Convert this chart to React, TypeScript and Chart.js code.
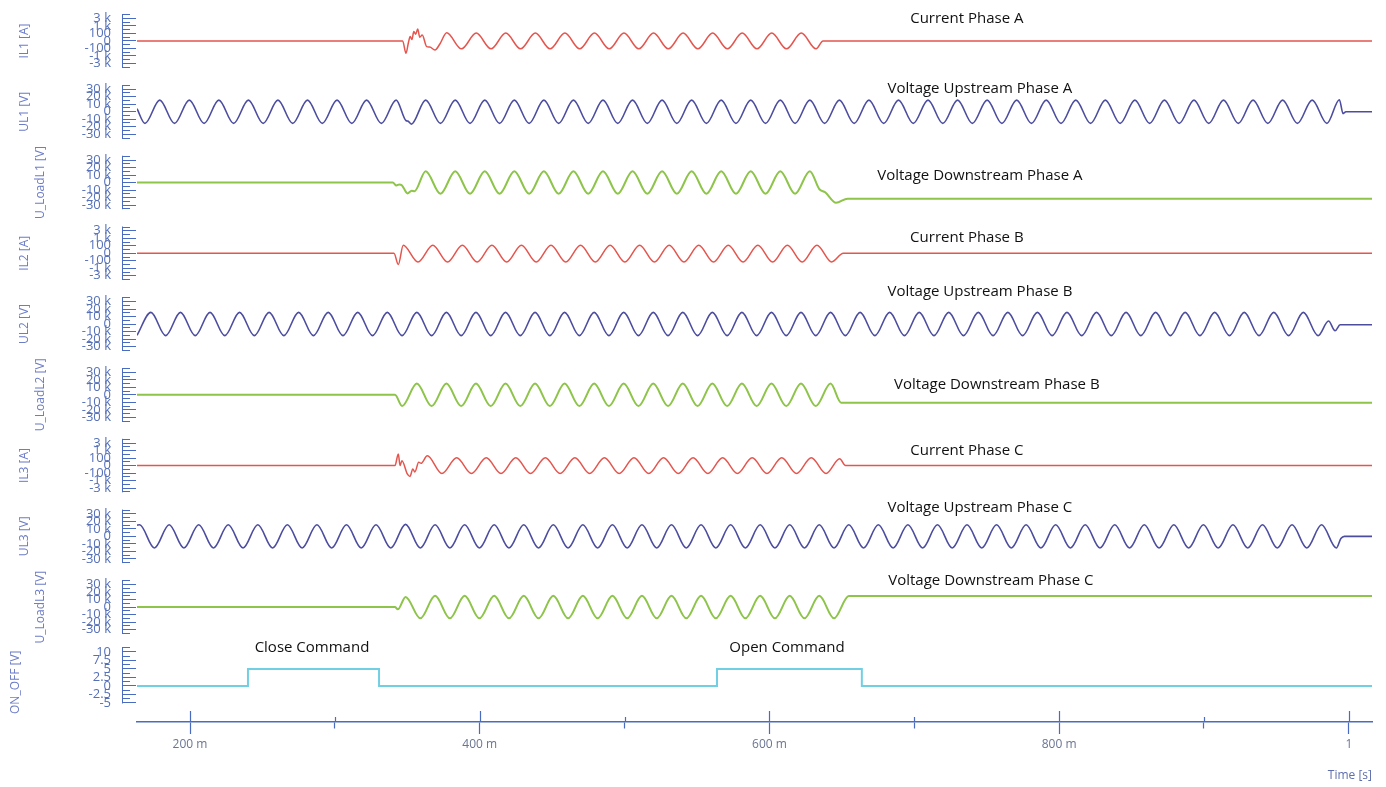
import React, { useEffect, useRef } from "react";
import { Chart, registerables } from "chart.js";

Chart.register(...registerables);

// ---------------- data (time in ms) ----------------
const X_TICKS = [200, 300, 400, 500, 600, 700, 800, 900, 1000];
const X_TICK_LABELS = ["200 m", "", "400 m", "", "600 m", "", "800 m", "", "1"];

const IL_TICKS = [-3.5, -3, -2.5, -2, -1.5, -1, -0.5, 0, 0.5, 1, 1.5, 2, 2.5, 3, 3.5];
const IL_TICK_LABELS = ["", "-3 k", "", "-1 k", "", "-100", "", "0", "", "100", "", "1 k", "", "3 k", ""];
const U_TICKS = [-35, -30, -25, -20, -15, -10, -5, 0, 5, 10, 15, 20, 25, 30, 35];
const U_TICK_LABELS = ["", "-30 k", "", "-20 k", "", "-10 k", "", "0", "", "10 k", "", "20 k", "", "30 k", ""];
const ON_TICKS = [-5, -3.75, -2.5, -1.25, 0, 1.25, 2.5, 3.75, 5, 6.25, 7.5, 8.75, 10, 11.25];
const ON_TICK_LABELS = ["-5", "", "-2.5", "", "0", "", "2.5", "", "5", "", "7.5", "", "10", ""];

const IL1 = [
  [163.4, 0], [346.8, 0], [349.1, -1.65], [350.8, -0.2], [352.0, 0.6], [353.2, 0.2], [354.5, 1.25],
  [355.8, 0.9], [357.2, 1.6], [358.6, 0.5], [360.3, 0.8], [363.4, -0.75], [365.5, -0.8], [369.1, -1.2],
  [372.5, -0.4], [377.2, 1.1], [387.4, -1.05], [397.6, 1.05], [407.8, -1.05], [418.0, 1.05], [428.2, -1.05],
  [438.4, 1.05], [448.6, -1.05], [458.8, 1.05], [469.0, -1.05], [479.2, 1.05], [489.4, -1.05], [499.6, 1.05],
  [509.8, -1.05], [520.0, 1.05], [530.2, -1.05], [540.4, 1.05], [550.6, -1.05], [560.8, 1.05], [571.0, -1.05],
  [581.2, 1.05], [591.4, -1.05], [601.6, 1.05], [611.8, -1.05], [622.0, 1.05], [632.2, -1.05], [637.0, 0],
  [1016, 0],
];
const IL2 = [
  [163.4, 0], [340.8, 0], [343.8, -1.5], [347.2, 1.07], [357.4, -1.15], [367.6, 1.07], [377.8, -1.15],
  [388.0, 1.07], [398.2, -1.15], [408.4, 1.07], [418.6, -1.15], [428.8, 1.07], [439.0, -1.15], [449.2, 1.07],
  [459.4, -1.15], [469.6, 1.07], [479.8, -1.15], [490.0, 1.07], [500.2, -1.15], [510.4, 1.07], [520.6, -1.15],
  [530.8, 1.07], [541.0, -1.15], [551.2, 1.07], [561.4, -1.15], [571.6, 1.07], [581.8, -1.15], [592.0, 1.07],
  [602.2, -1.15], [612.4, 1.07], [622.6, -1.15], [632.8, 1.07], [643.0, -1.15], [651.0, 0], [1016, 0],
];
const IL3 = [
  [163.4, 0], [341.5, 0], [343.8, 1.55], [345.0, 0], [346.3, 0.65], [350.0, -1.1], [351.9, -1.45],
  [353.8, -0.45], [355.2, -0.85], [357.9, 0.45], [359.5, 0.3], [363.8, 1.3], [373.9, -1.05], [384.1, 1.05],
  [394.3, -1.05], [404.5, 1.05], [414.7, -1.05], [424.9, 1.05], [435.1, -1.05], [445.3, 1.05], [455.5, -1.05],
  [465.7, 1.05], [475.9, -1.05], [486.1, 1.05], [496.3, -1.05], [506.5, 1.05], [516.7, -1.05], [526.9, 1.05],
  [537.1, -1.05], [547.3, 1.05], [557.5, -1.05], [567.7, 1.05], [577.9, -1.05], [588.1, 1.05], [598.3, -1.05],
  [608.5, 1.05], [618.7, -1.05], [628.9, 1.05], [639.1, -1.05], [648.5, 0.9], [652.5, 0], [1016, 0],
];

const UL1 = [
  [163.4, 4], [168.9, -15.5], [179.1, 15.5], [189.3, -15.5], [199.5, 15.5], [209.7, -15.5], [219.9, 15.5],
  [230.1, -15.5], [240.3, 15.5], [250.5, -15.5], [260.7, 15.5], [270.9, -15.5], [281.1, 15.5], [291.3, -15.5],
  [301.5, 15.5], [311.7, -15.5], [321.9, 15.5], [332.1, -15.5], [342.3, 15.5], [349.2, -12], [350.4, -12.5],
  [352.8, -16.5], [362.7, 15.5], [372.9, -15.5], [383.1, 15.5], [393.3, -15.5], [403.5, 15.5], [413.7, -15.5],
  [423.9, 15.5], [434.1, -15.5], [444.3, 15.5], [454.5, -15.5], [464.7, 15.5], [474.9, -15.5], [485.1, 15.5],
  [495.3, -15.5], [505.5, 15.5], [515.7, -15.5], [525.9, 15.5], [536.1, -15.5], [546.3, 15.5], [556.5, -15.5],
  [566.7, 15.5], [576.9, -15.5], [587.1, 15.5], [597.3, -15.5], [607.5, 15.5], [617.7, -15.5], [627.9, 15.5],
  [638.1, -15.5], [648.3, 15.5], [658.5, -15.5], [668.7, 15.5], [678.9, -15.5], [689.1, 15.5], [699.3, -15.5],
  [709.5, 15.5], [719.7, -15.5], [729.9, 15.5], [740.1, -15.5], [750.3, 15.5], [760.5, -15.5], [770.7, 15.5],
  [780.9, -15.5], [791.1, 15.5], [801.3, -15.5], [811.5, 15.5], [821.7, -15.5], [831.9, 15.5], [842.1, -15.5],
  [852.3, 15.5], [862.5, -15.5], [872.7, 15.5], [882.9, -15.5], [893.1, 15.5], [903.3, -15.5], [913.5, 15.5],
  [923.7, -15.5], [933.9, 15.5], [944.1, -15.5], [954.3, 15.5], [964.5, -15.5], [974.7, 15.5], [984.9, -15.5],
  [993.5, 16], [996.0, -2.5], [998.0, 0], [1016, 0],
];
const UL2 = [
  [163.4, -15], [173.0, 15.5], [183.2, -15.5], [193.4, 15.5], [203.6, -15.5], [213.8, 15.5], [224.0, -15.5],
  [234.2, 15.5], [244.4, -15.5], [254.6, 15.5], [264.8, -15.5], [275.0, 15.5], [285.2, -15.5], [295.4, 15.5],
  [305.6, -15.5], [315.8, 15.5], [326.0, -15.5], [336.2, 15.5], [346.4, -15.5], [356.6, 15.5], [366.8, -15.5],
  [377.0, 15.5], [387.2, -15.5], [397.4, 15.5], [407.6, -15.5], [417.8, 15.5], [428.0, -15.5], [438.2, 15.5],
  [448.4, -15.5], [458.6, 15.5], [468.8, -15.5], [479.0, 15.5], [489.2, -15.5], [499.4, 15.5], [509.6, -15.5],
  [519.8, 15.5], [530.0, -15.5], [540.2, 15.5], [550.4, -15.5], [560.6, 15.5], [570.8, -15.5], [581.0, 15.5],
  [591.2, -15.5], [601.4, 15.5], [611.6, -15.5], [621.8, 15.5], [632.0, -15.5], [642.2, 15.5], [652.4, -15.5],
  [662.6, 15.5], [672.8, -15.5], [683.0, 15.5], [693.2, -15.5], [703.4, 15.5], [713.6, -15.5], [723.8, 15.5],
  [734.0, -15.5], [744.2, 15.5], [754.4, -15.5], [764.6, 15.5], [774.8, -15.5], [785.0, 15.5], [795.2, -15.5],
  [805.4, 15.5], [815.6, -15.5], [825.8, 15.5], [836.0, -15.5], [846.2, 15.5], [856.4, -15.5], [866.6, 15.5],
  [876.8, -15.5], [887.0, 15.5], [897.2, -15.5], [907.4, 15.5], [917.6, -15.5], [927.8, 15.5], [938.0, -15.5],
  [948.2, 15.5], [958.4, -15.5], [968.6, 15.5], [978.8, -15.5], [986.0, 4], [990.5, -9], [994.0, -1],
  [1016, -1],
];
const UL3 = [
  [163.4, 15], [165.2, 15.5], [175.4, -15.5], [185.6, 15.5], [195.8, -15.5], [206.0, 15.5], [216.2, -15.5],
  [226.4, 15.5], [236.6, -15.5], [246.8, 15.5], [257.0, -15.5], [267.2, 15.5], [277.4, -15.5], [287.6, 15.5],
  [297.8, -15.5], [308.0, 15.5], [318.2, -15.5], [328.4, 15.5], [338.6, -15.5], [348.8, 16], [359.0, -15.5],
  [369.2, 15.5], [379.4, -15.5], [389.6, 15.5], [399.8, -15.5], [410.0, 15.5], [420.2, -15.5], [430.4, 15.5],
  [440.6, -15.5], [450.8, 15.5], [461.0, -15.5], [471.2, 15.5], [481.4, -15.5], [491.6, 15.5], [501.8, -15.5],
  [512.0, 15.5], [522.2, -15.5], [532.4, 15.5], [542.6, -15.5], [552.8, 15.5], [563.0, -15.5], [573.2, 15.5],
  [583.4, -15.5], [593.6, 15.5], [603.8, -15.5], [614.0, 15.5], [624.2, -15.5], [634.4, 15.5], [644.6, -15.5],
  [654.8, 15.5], [665.0, -15.5], [675.2, 15.5], [685.4, -15.5], [695.6, 15.5], [705.8, -15.5], [716.0, 15.5],
  [726.2, -15.5], [736.4, 15.5], [746.6, -15.5], [756.8, 15.5], [767.0, -15.5], [777.2, 15.5], [787.4, -15.5],
  [797.6, 15.5], [807.8, -15.5], [818.0, 15.5], [828.2, -15.5], [838.4, 15.5], [848.6, -15.5], [858.8, 15.5],
  [869.0, -15.5], [879.2, 15.5], [889.4, -15.5], [899.6, 15.5], [909.8, -15.5], [920.0, 15.5], [930.2, -15.5],
  [940.4, 15.5], [950.6, -15.5], [960.8, 15.5], [971.0, -15.5], [981.2, 15.5], [991.4, -15.5], [994.5, -3],
  [997.0, 0], [1016, 0],
];

const ULOAD1 = [
  [163.4, 0], [340.0, 0], [342.5, -4], [344.5, -2.5], [346.2, -3.5], [350.2, -14.5], [353.0, -11],
  [355.0, -11.5], [362.7, 15], [372.9, -15], [383.1, 15], [393.3, -15], [403.5, 15], [413.7, -15],
  [423.9, 15], [434.1, -15], [444.3, 15], [454.5, -15], [464.7, 15], [474.9, -15], [485.1, 15],
  [495.3, -15], [505.5, 15], [515.7, -15], [525.9, 15], [536.1, -15], [546.3, 15], [556.5, -15],
  [566.7, 15], [576.9, -15], [587.1, 15], [597.3, -15], [607.5, 15], [617.7, -15], [627.9, 15],
  [634.5, -9], [638.5, -13], [646.0, -27], [654.0, -21.5], [1016, -21.5],
];
const ULOAD2 = [
  [163.4, 0], [341.5, 0], [346.4, -15], [356.6, 15], [366.8, -15], [377.0, 15], [387.2, -15],
  [397.4, 15], [407.6, -15], [417.8, 15], [428.0, -15], [438.2, 15], [448.4, -15], [458.6, 15],
  [468.8, -15], [479.0, 15], [489.2, -15], [499.4, 15], [509.6, -15], [519.8, 15], [530.0, -15],
  [540.2, 15], [550.4, -15], [560.6, 15], [570.8, -15], [581.0, 15], [591.2, -15], [601.4, 15],
  [611.6, -15], [621.8, 15], [632.0, -15], [642.2, 15], [649.5, -10.5], [1016, -10.5],
];
const ULOAD3 = [
  [163.4, 0], [341.5, 0], [343.5, -3], [348.8, 13.5], [359.0, -15], [369.2, 15], [379.4, -15],
  [389.6, 15], [399.8, -15], [410.0, 15], [420.2, -15], [430.4, 15], [440.6, -15], [450.8, 15],
  [461.0, -15], [471.2, 15], [481.4, -15], [491.6, 15], [501.8, -15], [512.0, 15], [522.2, -15],
  [532.4, 15], [542.6, -15], [552.8, 15], [563.0, -15], [573.2, 15], [583.4, -15], [593.6, 15],
  [603.8, -15], [614.0, 15], [624.2, -15], [634.4, 15], [644.6, -15], [654.8, 14.7], [1016, 14.7],
];
const ON_OFF = [
  [163.4, 0], [240.0, 0], [240.0, 5], [330.5, 5], [330.5, 0], [563.8, 0], [563.8, 5], [663.8, 5],
  [663.8, 0], [1016, 0],
];

// ---------------- styling / layout config ----------------
const RED = "#e4554e";
const BLUE = "#4c4d9f";
const GREEN = "#8dc449";
const CYAN = "#70cfe3";
const AXIS = "#4a6cc0";
const TICK_TXT = "#5570b8";
const TITLE_TXT = "#6c7cc6";
const Y_TICK_LEN = 15;

const KINDS: any = {
  IL: { min: -4.717, max: 4.717, ticks: IL_TICKS, labels: IL_TICK_LABELS, weight: 1 },
  U: { min: -47.17, max: 47.17, ticks: U_TICKS, labels: U_TICK_LABELS, weight: 1 },
  ON: { min: -10.59, max: 12.79, ticks: ON_TICKS, labels: ON_TICK_LABELS, weight: 1.1237 },
};

const PANELS: any[] = [
  { id: "yIL1", title: "IL1 [A]", kind: "IL", data: IL1, color: RED, width: 1.5, titleX: 25 },
  { id: "yUL1", title: "UL1 [V]", kind: "U", data: UL1, color: BLUE, width: 1.6, titleX: 25 },
  { id: "yUD1", title: "U_LoadL1 [V]", kind: "U", data: ULOAD1, color: GREEN, width: 2, titleX: 41 },
  { id: "yIL2", title: "IL2 [A]", kind: "IL", data: IL2, color: RED, width: 1.5, titleX: 25 },
  { id: "yUL2", title: "UL2 [V]", kind: "U", data: UL2, color: BLUE, width: 1.6, titleX: 25 },
  { id: "yUD2", title: "U_LoadL2 [V]", kind: "U", data: ULOAD2, color: GREEN, width: 2, titleX: 41 },
  { id: "yIL3", title: "IL3 [A]", kind: "IL", data: IL3, color: RED, width: 1.5, titleX: 25 },
  { id: "yUL3", title: "UL3 [V]", kind: "U", data: UL3, color: BLUE, width: 1.6, titleX: 25 },
  { id: "yUD3", title: "U_LoadL3 [V]", kind: "U", data: ULOAD3, color: GREEN, width: 2, titleX: 41 },
  { id: "yON", title: "ON_OFF [V]", kind: "ON", data: ON_OFF, color: CYAN, width: 2, titleX: 16 },
];

const NOTES = [
  { text: "Current Phase A", t: 736.3, axis: "yIL1", v: 2.93 },
  { text: "Voltage Upstream Phase A", t: 745.3, axis: "yUL1", v: 30.7 },
  { text: "Voltage Downstream Phase A", t: 745.3, axis: "yUD1", v: 9.3 },
  { text: "Current Phase B", t: 736.3, axis: "yIL2", v: 2.13 },
  { text: "Voltage Upstream Phase B", t: 745.3, axis: "yUL2", v: 42.7 },
  { text: "Voltage Downstream Phase B", t: 757.0, axis: "yUD2", v: 13.3 },
  { text: "Current Phase C", t: 736.3, axis: "yIL3", v: 2.0 },
  { text: "Voltage Upstream Phase C", t: 745.3, axis: "yUL3", v: 38.7 },
  { text: "Voltage Downstream Phase C", t: 752.9, axis: "yUD3", v: 34.7 },
  { text: "Close Command", t: 284.2, axis: "yON", v: 11.2 },
  { text: "Open Command", t: 612.1, axis: "yON", v: 11.2 },
];

const decorPlugin = {
  id: "decor",
  afterDraw(chart: any) {
    const ctx = chart.ctx;
    ctx.save();
    ctx.strokeStyle = AXIS;
    ctx.lineWidth = 1;
    PANELS.forEach((p) => {
      const s = chart.scales[p.id];
      const t = s.ticks;
      const y0 = s.getPixelForValue(t[0].value);
      const y1 = s.getPixelForValue(t[t.length - 1].value);
      const x = Math.round(s.right - Y_TICK_LEN) + 0.5;
      ctx.beginPath();
      ctx.moveTo(x, y0 + 0.5);
      ctx.lineTo(x, y1 - 0.5);
      ctx.stroke();
    });
    const xs = chart.scales.x;
    ctx.lineWidth = 1.2;
    xs.ticks.forEach((t: any, i: number) => {
      const px = Math.round(xs.getPixelForValue(t.value)) + 0.5;
      ctx.beginPath();
      ctx.moveTo(px, xs.top);
      ctx.lineTo(px, xs.top - (X_TICK_LABELS[i] ? 11 : 5));
      ctx.stroke();
    });
    ctx.fillStyle = "#111111";
    ctx.font = "15px 'Open Sans', sans-serif";
    ctx.textAlign = "center";
    ctx.textBaseline = "middle";
    NOTES.forEach((n) => {
      ctx.fillText(n.text, xs.getPixelForValue(n.t), chart.scales[n.axis].getPixelForValue(n.v));
    });
    ctx.restore();
  },
};

export default function App() {
  const ref = useRef<HTMLCanvasElement>(null);

  useEffect(() => {
    const canvas = ref.current;
    if (!canvas) return;
    Chart.defaults.font.family = "'Open Sans', sans-serif";

    const scales: any = {
      x: {
        type: "linear",
        position: "bottom",
        min: 163.4,
        max: 1016,
        afterBuildTicks: (s: any) => {
          s.ticks = X_TICKS.map((v) => ({ value: v }));
        },
        afterFit: (s: any) => {
          s.height = 65;
          s.paddingLeft = 0;
          s.paddingRight = 0;
        },
        ticks: {
          autoSkip: false,
          maxRotation: 0,
          padding: 3,
          color: "#6b7593",
          font: { size: 12 },
          callback: (_v: any, i: number) => X_TICK_LABELS[i],
        },
        grid: {
          drawOnChartArea: false,
          tickLength: 12,
          tickColor: AXIS,
          tickWidth: 1.2,
          tickBorderDash: (c: any) => (X_TICK_LABELS[c.index] ? [] : [6, 100]),
        },
        border: { display: true, color: AXIS, width: 1.5 },
        title: {
          display: true,
          text: "Time [s]",
          align: "end",
          color: "#5e6fae",
          font: { size: 12 },
          padding: { top: 0, bottom: 4 },
        },
      },
    };

    PANELS.forEach((p, i) => {
      const k = KINDS[p.kind];
      scales[p.id] = {
        type: "linear",
        position: "left",
        stack: "panels",
        stackWeight: k.weight,
        weight: PANELS.length - i,
        min: k.min,
        max: k.max,
        afterBuildTicks: (s: any) => {
          s.ticks = k.ticks.map((v: number) => ({ value: v }));
        },
        afterFit: (s: any) => {
          s.width = 137;
          s.paddingTop = 0;
          s.paddingBottom = 0;
        },
        ticks: {
          autoSkip: false,
          padding: 11,
          color: TICK_TXT,
          font: { size: 13 },
          callback: (_v: any, idx: number) => k.labels[idx],
        },
        grid: {
          drawOnChartArea: false,
          tickLength: Y_TICK_LEN,
          tickColor: AXIS,
          tickWidth: 1,
          tickBorderDash: (c: any) => (k.labels[c.index] ? [14, 100] : [8, 100]),
        },
        border: { display: false },
        title: {
          display: true,
          text: p.title,
          color: TITLE_TXT,
          font: { size: 12 },
          padding: { top: p.titleX - 7.2, bottom: 0 },
        },
      };
    });

    const chart = new Chart(canvas, {
      type: "line",
      data: {
        datasets: PANELS.map((p) => ({
          data: p.data.map(([x, y]: number[]) => ({ x, y })),
          xAxisID: "x",
          yAxisID: p.id,
          borderColor: p.color,
          borderWidth: p.width,
          pointRadius: 0,
          fill: false,
          tension: 0,
          cubicInterpolationMode: p.kind === "ON" ? "default" : "monotone",
        })),
      },
      options: {
        responsive: false,
        animation: false,
        devicePixelRatio: 1,
        events: [],
        layout: { padding: { top: 5.6, right: 14, left: 0, bottom: 0 } },
        plugins: { legend: { display: false }, tooltip: { enabled: false } },
        scales,
      } as any,
      plugins: [decorPlugin],
    });

    return () => chart.destroy();
  }, []);

  return (
    <div style={{ position: "absolute", left: 0, top: 0, width: 1386, height: 787, background: "#ffffff" }}>
      <canvas ref={ref} width={1386} height={787} style={{ display: "block" }} />
    </div>
  );
}
